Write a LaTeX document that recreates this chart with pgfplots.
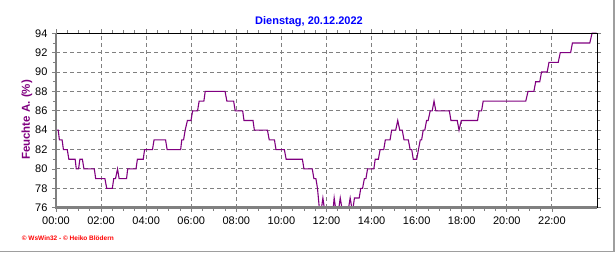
\documentclass[border=0pt]{standalone}
\usepackage{fontspec}
\setmainfont{Liberation Sans}
\usepackage{pgfplots}
\pgfplotsset{compat=1.18}
\definecolor{wpurple}{HTML}{800080}
\definecolor{wgray}{HTML}{808080}
\definecolor{wblue}{HTML}{0000FF}
\definecolor{wred}{HTML}{FF0000}
\begin{document}
\begin{tikzpicture}
\path[use as bounding box] (0pt,0pt) rectangle (616pt,253pt);
\fill[white] (0pt,0pt) rectangle (616pt,253pt);
\draw[black!38, line width=1.6pt] (0pt,1.5pt) -- (614pt,1.5pt) -- (614pt,253pt);
\begin{axis}[
  at={(56pt,45.3pt)}, anchor=south west,
  scale only axis, width=541pt, height=174.4pt,
  xmin=0, xmax=24, ymin=76, ymax=94,
  axis line style={draw=none},
  xtick={0,2,...,22},
  xticklabels={00:00,02:00,04:00,06:00,08:00,10:00,12:00,14:00,16:00,18:00,20:00,22:00},
  ytick={76,78,...,94},
  minor x tick num=3,
  minor y tick num=1,
  tick align=outside,
  major tick length=4pt,
  minor tick length=3pt,
  tick style={wgray, line width=0.8pt},
  grid=major,
  major grid style={wgray, line width=0.9pt, dash pattern=on 4pt off 3pt},
  /pgf/number format/assume math mode=true,
  tick label style={font=\fontsize{11}{13}\selectfont, text=black},
  xticklabel style={yshift=-2pt},
  yticklabel style={xshift=-1pt},
  clip=false,
]
\addplot[wpurple, line width=1.1pt, sharp plot] coordinates {
(0.00,84) (0.10,84) (0.15,83) (0.27,83) (0.33,82) (0.50,82) (0.57,81) (0.85,81)
(0.90,80) (1.00,80) (1.06,81) (1.17,81) (1.24,80) (1.70,80) (1.76,79) (2.17,79)
(2.25,78) (2.50,78) (2.56,79) (2.64,79) (2.73,80) (2.80,79) (3.13,79) (3.18,80)
(3.55,80) (3.61,81) (3.87,81) (3.93,82) (4.28,82) (4.35,83) (4.86,83) (4.93,82)
(5.53,82) (5.58,83) (5.66,83) (5.73,84) (5.83,85) (5.99,85) (6.06,86) (6.28,86)
(6.35,87) (6.56,87) (6.62,88) (7.50,88) (7.58,87) (7.88,87) (7.95,86) (8.28,86)
(8.34,85) (8.74,85) (8.80,84) (9.38,84) (9.46,83) (9.69,83) (9.76,82) (10.13,82)
(10.21,81) (10.93,81) (11.00,80) (11.37,80) (11.44,79) (11.53,79) (11.60,78)
(11.64,77) (11.68,76) (11.78,76) (11.84,77) (11.90,76) (12.30,76) (12.34,77)
(12.40,76) (12.55,76) (12.61,77) (12.68,76) (12.98,76) (13.05,77) (13.12,76)
(13.18,76) (13.24,77) (13.45,77) (13.52,78) (13.60,78) (13.68,79) (13.75,79)
(13.82,80) (14.10,80) (14.16,81) (14.30,81) (14.38,82) (14.54,82) (14.61,83)
(14.82,83) (14.89,84) (15.07,84) (15.16,85) (15.25,84) (15.36,84) (15.44,83)
(15.63,83) (15.71,82) (15.78,82) (15.85,81) (16.00,81) (16.08,82) (16.16,83)
(16.22,83) (16.29,84) (16.36,84) (16.44,85) (16.51,85) (16.60,86) (16.69,86)
(16.77,87) (16.85,86) (17.45,86) (17.52,85) (17.80,85) (17.88,84) (17.98,85)
(18.70,85) (18.77,86) (18.88,86) (18.95,87) (20.84,87) (20.94,88) (21.20,88)
(21.28,89) (21.46,89) (21.54,90) (21.79,90) (21.87,91) (22.28,91) (22.37,92)
(22.83,92) (22.91,93) (23.68,93) (23.78,94) (23.98,94)
};
\draw[black, line width=1pt] (rel axis cs:0,1) -- (rel axis cs:1,1) -- (rel axis cs:1,0);
\draw[wgray, line width=2.7pt] (rel axis cs:0,1) -- (rel axis cs:0,0) -- (rel axis cs:1,0);
\end{axis}
\node[text=wblue, font=\fontsize{11}{13}\selectfont\bfseries] at (309pt,231pt) {Dienstag, 20.12.2022};
\node[text=wpurple, font=\fontsize{11.5}{13}\selectfont\bfseries, rotate=90] at (27pt,133pt) {Feuchte A. (\%)};
\node[text=wred, font=\fontsize{6.5}{8}\selectfont\bfseries, anchor=west, inner sep=0pt] at (21.7pt,14.5pt) {© WsWin32 - © Heiko Blödern};
\end{tikzpicture}
\end{document}
